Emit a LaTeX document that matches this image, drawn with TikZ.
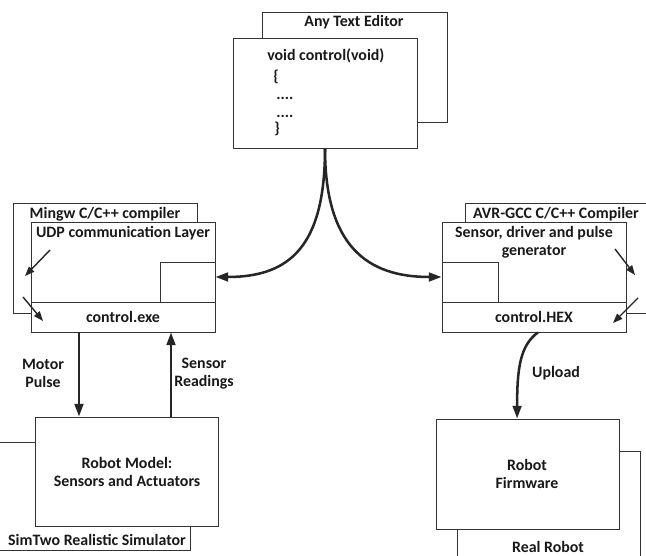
\documentclass[tikz,border=0pt]{standalone}
\usepackage{fontspec}
\setmainfont{Carlito}
\usetikzlibrary{arrows.meta,calc}

\begin{document}
\begin{tikzpicture}[x=0.025cm,y=-0.025cm,
    font=\fontsize{11.3}{12.8}\selectfont\bfseries,
    frame/.style={draw=black!80,line width=0.6pt,fill=white,inner sep=0},
    txt/.style={inner sep=0,align=center,text=black!90},
    flow/.style={line width=1.8pt,draw=black!85,-{Triangle[length=3.2mm,width=2.2mm]}},
    hint/.style={line width=1pt,draw=black!85,-{Triangle[length=2.4mm,width=1.8mm]}}]

    \useasboundingbox (0,0) rectangle (646,556);
    \clip (0,0) rectangle (646,556);

    \node[frame,minimum width=4.625cm,minimum height=2.75cm] (editorback) at (354.5,67) {};
    \node[txt] (editorlbl) at (354,22) {Any Text Editor};
    \node[frame,minimum width=4.6cm,minimum height=2.75cm] (editor) at (325,93) {};
    \foreach \i/\x/\y/\t in {1/267/61/{void control(void)},2/273/82/\{,3/276/100/{....},4/276/118/{....},5/274/134/\}}
        \node[txt,anchor=base west] (code\i) at (\x,\y) {\t};

    \node[frame,minimum width=4.6cm,minimum height=2.75cm] (mingwback) at (105,258) {};
    \node[txt] (mingwlbl) at (105,214) {Mingw C/C++ compiler};
    \node[frame,minimum width=4.6cm,minimum height=2cm] (udp) at (123,262) {};
    \node[txt] (udplbl) at (123,233) {UDP communication Layer};
    \node[frame,minimum width=1.375cm,minimum height=1cm] (udpport) at (187.5,282) {};
    \node[frame,minimum width=4.6cm,minimum height=0.75cm] (exe) at (123,317) {};
    \node[txt] (exelbl) at (123,317) {control.exe};

    \node[frame,minimum width=4.625cm,minimum height=2.75cm] (avrback) at (557.5,258) {};
    \node[txt] (avrlbl) at (556,214) {AVR-GCC C/C++ Compiler};
    \node[frame,minimum width=4.6cm,minimum height=2cm] (driver) at (534,262) {};
    \node[txt] (driverlbl) at (534,242) {Sensor, driver and pulse\\generator};
    \node[frame,minimum width=1.4cm,minimum height=1cm] (avrport) at (470,282) {};
    \node[frame,minimum width=4.6cm,minimum height=0.75cm] (hex) at (534,317) {};
    \node[txt] (hexlbl) at (534,317) {control.HEX};

    \node[frame,minimum width=5cm,minimum height=2.7cm] (simback) at (90,496) {};
    \node[txt] (simlbl) at (97,540) {SimTwo Realistic Simulator};
    \node[frame,minimum width=4.575cm,minimum height=2.725cm] (model) at (126.5,471.5) {};
    \node[txt] (modellbl) at (127,472) {Robot Model:\\Sensors and Actuators};

    \node[frame,minimum width=4.575cm,minimum height=2.975cm] (realback) at (548.5,510.5) {};
    \node[txt] (reallbl) at (548,546.5) {Real Robot};
    \node[frame,minimum width=4.575cm,minimum height=2.75cm] (firmware) at (527.5,474) {};
    \node[txt] (firmwarelbl) at (527,474) {Robot\\Firmware};

    \draw[flow] (editor.south) .. controls +(0,97) and +(75,0) .. ([yshift=0.125cm]udpport.east);
    \draw[flow] (editor.south) .. controls +(0,97) and +(-75,0) .. ([yshift=0.125cm]avrport.west);

    \draw[flow] ([xshift=-1.1cm]exe.south) -- ([xshift=-1.1cm]exe.south |- model.north);
    \draw[flow] ([xshift=1.2cm]exe.south |- model.north) -- ([xshift=1.2cm]exe.south);
    \node[txt] (motorlbl) at (43,373.5) {Motor\\Pulse};
    \node[txt] (sensorlbl) at (204,373.5) {Sensor\\Readings};

    \draw[flow] ([xshift=0.1cm]hex.south) .. controls +(-18,13) and +(0,-50) .. ([xshift=-0.26cm]firmware.north);
    \node[txt] (uploadlbl) at (556,373) {Upload};

    \coordinate (mingwin) at (50,250);
    \coordinate (mingwinend) at (25,276);
    \coordinate (mingwout) at (23,297);
    \coordinate (mingwoutend) at (43,321);
    \coordinate (avrin) at (615,249);
    \coordinate (avrinend) at (635,275);
    \coordinate (avrout) at (638,298);
    \coordinate (avroutend) at (613,323);
    \draw[hint] (mingwin) -- (mingwinend);
    \draw[hint] (mingwout) -- (mingwoutend);
    \draw[hint] (avrin) -- (avrinend);
    \draw[hint] (avrout) -- (avroutend);
\end{tikzpicture}
\end{document}
